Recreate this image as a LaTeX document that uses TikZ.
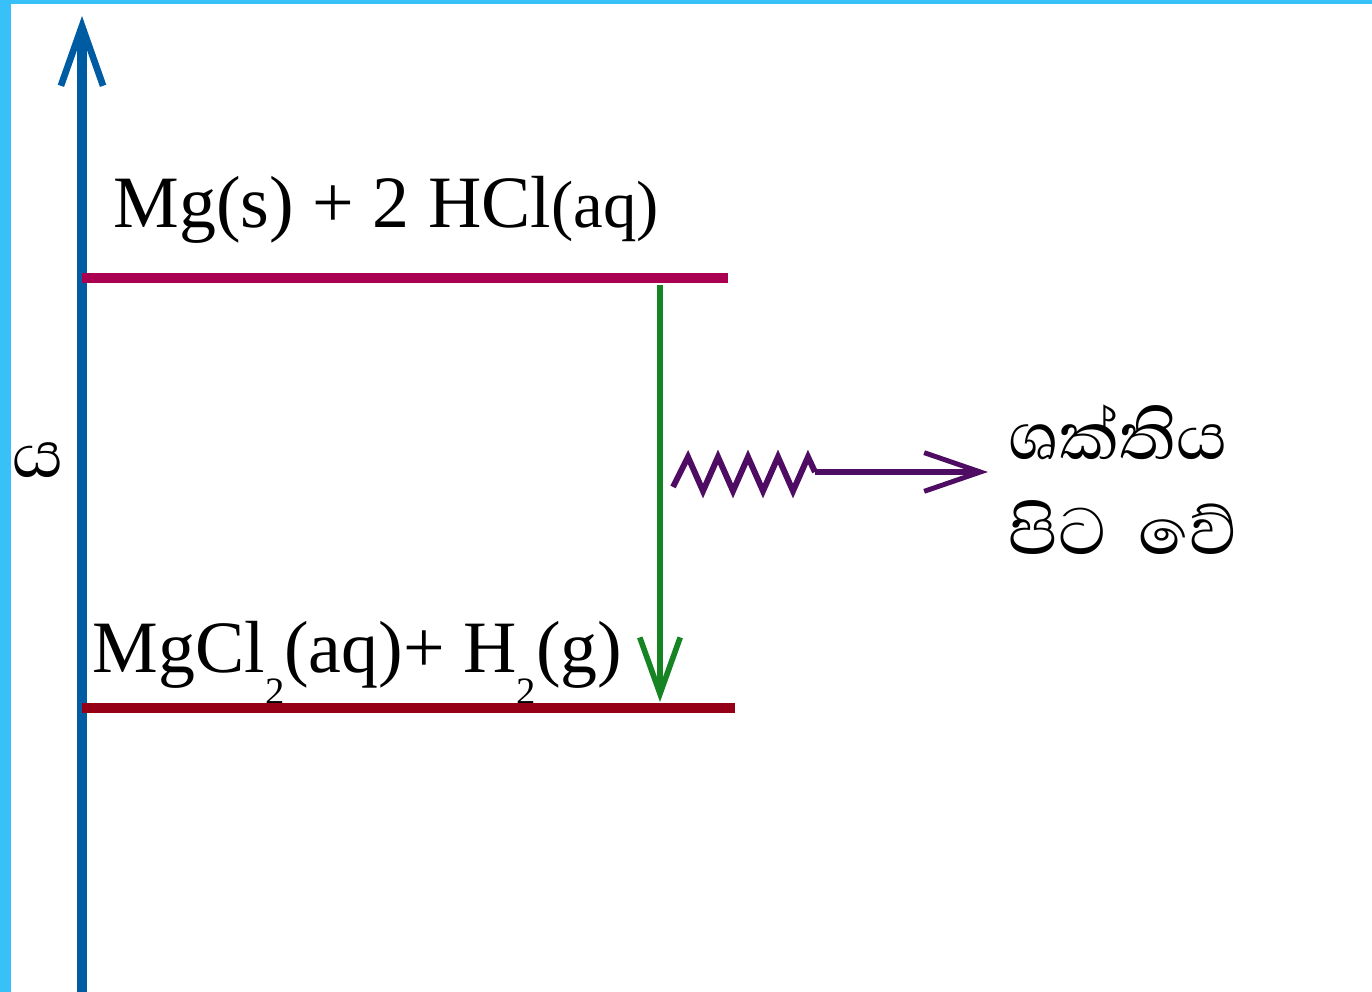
\documentclass[tikz,border=0pt]{standalone}
\usepackage{fontspec}
\setmainfont{Liberation Serif}
\newfontfamily\sinhala[Script=Sinhala]{Abhaya Libre}
\usetikzlibrary{arrows.meta}

\definecolor{frame}{RGB}{56,192,248}
\definecolor{axisblue}{RGB}{0,92,162}
\definecolor{upper}{RGB}{170,0,82}
\definecolor{lower}{RGB}{150,0,22}
\definecolor{drop}{RGB}{22,132,34}
\definecolor{heat}{RGB}{78,12,98}

\newcommand{\lowtwo}{\raisebox{-0.42em}{\fontsize{11pt}{11pt}\selectfont 2}}
\newcommand{\smallaq}{{\fontsize{19pt}{19pt}\selectfont (aq)}}

\tikzset{
    energyaxis/.style={line width=2.8pt, axisblue, -{Straight Barb[length=17pt,width=12pt,line width=1.9pt]}},
    level/.style={line width=2.8pt},
    dropline/.style={line width=1.8pt, drop, -{Straight Barb[length=16pt,width=11.5pt,line width=1.6pt]}},
    heatline/.style={line width=1.7pt, heat, line join=miter},
    formula/.style={anchor=base west, inner sep=0pt, font=\fontsize{21pt}{21pt}\selectfont},
    sinh/.style={anchor=base west, inner sep=0pt, font=\sinhala\fontsize{24pt}{24pt}\selectfont}
}

\begin{document}
\begin{tikzpicture}[x=0.01cm, y=-0.01cm]
        \useasboundingbox (0,0) rectangle (1372,992);
        \fill[frame] (0,0) rectangle (11,992);
        \fill[frame] (0,0) rectangle (1372,4);

        \coordinate (axbot) at (82,992);
        \coordinate (axtop) at (82,16);
        \coordinate (r1) at (82,278);
        \coordinate (r2) at (728,278);
        \coordinate (p1) at (82,708);
        \coordinate (p2) at (735,708);
        \coordinate (g1) at (660,285);
        \coordinate (g2) at (660,702);
        \coordinate (z0) at (673,487);
        \coordinate (z1) at (815,472);
        \coordinate (z2) at (988,472);

        \node[sinh] (ylabel) at (12,478) {ය};
        \node[formula] (react) at (113,228) {Mg(s) + 2 HCl\smallaq};
        \node[formula] (prod) at (92,673) {MgCl\lowtwo(aq)+ H\lowtwo(g)};
        \node[sinh] (out1) at (1008,460) {ශක්තිය};
        \node[sinh] (out2) at (1008,555) {පිට\hspace{0.38em}වේ};

        \draw[energyaxis] (axbot) -- (axtop);
        \draw[level, upper] (r1) -- (r2);
        \draw[level, lower] (p1) -- (p2);
        \draw[dropline] (g1) -- (g2);
        \draw[heatline] (z0) -- (688,457) -- (703,491) -- (718,457) -- (733,491) -- (748,457)
            -- (763,491) -- (778,457) -- (793,491) -- (808,457) -- (z1);
        \draw[heatline, -{Straight Barb[length=16pt,width=11pt,line width=1.4pt]}] (z1) -- (z2);
\end{tikzpicture}
\end{document}
